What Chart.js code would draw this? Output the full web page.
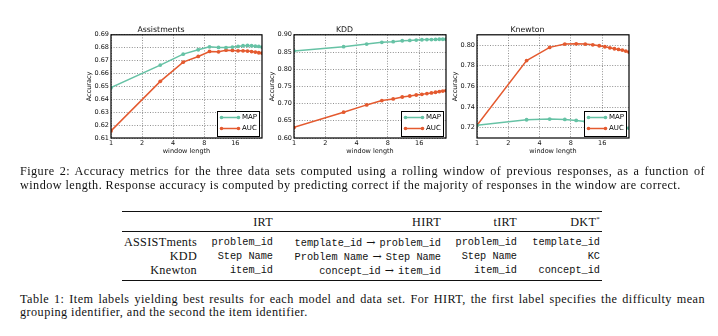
<!DOCTYPE html>
<html>
<head>
<meta charset="utf-8">
<script src="https://cdn.jsdelivr.net/npm/chart.js@4.4.0/dist/chart.umd.min.js"></script>
<style>
body { margin: 0; background: #fff; width: 718px; height: 336px; overflow: hidden; position: relative; }
.plot { position: absolute; top: 0; height: 165px; }
.cap { position: absolute; left: 20px; width: 685px; font-family: "Liberation Serif", serif; font-size: 12.2px;
       letter-spacing: 0.45px; line-height: 13.5px; color: #111; }
.cap .j { text-align: justify; text-align-last: justify; }
.rule { position: absolute; left: 122px; width: 480px; background: #111; }
.row { position: absolute; left: 0; width: 718px; height: 14px; line-height: 14px;
       font-family: "Liberation Serif", serif; font-size: 12.2px; letter-spacing: 0.3px; color: #111; }
.row span { position: absolute; top: 0; white-space: nowrap; }
.row span span { position: static; }
.tt { font-family: "Liberation Mono", monospace; font-size: 10.25px; letter-spacing: 0; }
.ar { font-family: "DejaVu Serif", serif; font-size: 11px; letter-spacing: 0; padding: 0 4px; }
.c0 { right: 521px; } .c1 { right: 445px; } .c2 { right: 277px; } .c3 { right: 201px; } .c4 { right: 118px; }
</style>
</head>
<body>
<canvas id="c1" class="plot" style="left:60px" width="210" height="165"></canvas>
<canvas id="c2" class="plot" style="left:243px" width="211" height="165"></canvas>
<canvas id="c3" class="plot" style="left:426px" width="211" height="165"></canvas>

<div class="cap" style="top:165px">
  <div class="j">Figure 2: Accuracy metrics for the three data sets computed using a rolling window of previous responses, as a function of</div>
  <div>window length. Response accuracy is computed by predicting correct if the majority of responses in the window are correct.</div>
</div>

<div class="rule" style="top:211px;height:1.2px"></div>
<div class="row" style="top:214.5px">
  <span class="c1">IRT</span><span class="c2">HIRT</span><span class="c3">tIRT</span><span class="c4">DKT<sup style="font-size:7px;line-height:0">*</sup></span>
</div>
<div class="rule" style="top:231px;height:0.7px"></div>
<div class="row" style="top:234.5px">
  <span class="c0">ASSISTments</span><span class="c1 tt">problem_id</span>
  <span class="c2"><span class="tt">template_id</span><span class="ar">&rarr;</span><span class="tt">problem_id</span></span>
  <span class="c3 tt">problem_id</span><span class="c4 tt">template_id</span>
</div>
<div class="row" style="top:248.5px">
  <span class="c0">KDD</span><span class="c1 tt">Step Name</span>
  <span class="c2"><span class="tt">Problem Name</span><span class="ar">&rarr;</span><span class="tt">Step Name</span></span>
  <span class="c3 tt">Step Name</span><span class="c4 tt">KC</span>
</div>
<div class="row" style="top:262.5px">
  <span class="c0">Knewton</span><span class="c1 tt">item_id</span>
  <span class="c2"><span class="tt">concept_id</span><span class="ar">&rarr;</span><span class="tt">item_id</span></span>
  <span class="c3 tt">item_id</span><span class="c4 tt">concept_id</span>
</div>
<div class="rule" style="top:279.5px;height:1.2px"></div>

<div class="cap" style="top:292.5px">
  <div class="j">Table 1: Item labels yielding best results for each model and data set. For HIRT, the first label specifies the difficulty mean</div>
  <div>grouping identifier, and the second the item identifier.</div>
</div>

<script>
const windowLengths = [1, 3, 5, 7, 9, 11, 13, 15, 17, 19, 21, 23, 25, 27, 29];
const xTicks = [1, 2, 4, 8, 16];

const assistMAP = [0.649, 0.6665, 0.675, 0.6784, 0.6807, 0.6802, 0.6801, 0.6805, 0.681, 0.6815, 0.6817, 0.6815, 0.6812, 0.681, 0.6805];
const assistAUC = [0.6155, 0.6539, 0.6688, 0.6732, 0.6771, 0.6768, 0.6781, 0.6779, 0.6776, 0.6776, 0.6774, 0.677, 0.6766, 0.6761, 0.6758];
const assistTicks = [0.61, 0.62, 0.63, 0.64, 0.65, 0.66, 0.67, 0.68, 0.69];

const kddMAP = [0.853, 0.8654, 0.873, 0.878, 0.880, 0.8827, 0.8837, 0.8846, 0.8856, 0.886, 0.886, 0.8865, 0.887, 0.887, 0.887];
const kddAUC = [0.6308, 0.675, 0.6962, 0.7087, 0.7135, 0.7192, 0.7221, 0.725, 0.727, 0.729, 0.731, 0.733, 0.735, 0.7365, 0.738];
const kddTicks = [0.60, 0.65, 0.70, 0.75, 0.80, 0.85, 0.90];

const knewtonMAP = [0.7223, 0.7277, 0.7283, 0.728, 0.727, 0.726, 0.725, 0.724, 0.723, 0.722, 0.7215, 0.721, 0.7205, 0.72, 0.7195];
const knewtonAUC = [0.7223, 0.785, 0.7978, 0.801, 0.8013, 0.801, 0.8003, 0.7994, 0.7984, 0.7974, 0.7965, 0.7958, 0.7952, 0.7942, 0.7933];
const knewtonTicks = [0.72, 0.74, 0.76, 0.78, 0.80];

const mapColor = '#66c2a5';
const aucColor = '#e45a2f';
const sans = '"DejaVu Sans", sans-serif';

// axes frame + matplotlib style legend in the lower right corner
const frameLegend = {
  id: 'frameLegend',
  afterDatasetsDraw(chart) {
    const { ctx, chartArea: a } = chart;
    ctx.save();
    ctx.strokeStyle = '#000';
    ctx.lineWidth = 1.2;
    ctx.strokeRect(a.left, a.top, a.right - a.left, a.bottom - a.top);

    const w = 42, h = 25;
    const x = Math.round(a.right - 3 - w) + 0.5, y = Math.round(a.bottom - 2 - h) + 0.5;
    ctx.fillStyle = '#fff';
    ctx.fillRect(x, y, w, h);
    ctx.lineWidth = 1;
    ctx.strokeRect(x, y, w, h);
    ctx.font = '7px ' + sans;
    ctx.textBaseline = 'middle';
    chart.data.datasets.forEach((ds, i) => {
      const cy = y + 6 + i * 11;
      ctx.strokeStyle = ds.borderColor;
      ctx.fillStyle = ds.borderColor;
      ctx.lineWidth = 1.5;
      ctx.beginPath();
      ctx.moveTo(x + 4, cy);
      ctx.lineTo(x + 21, cy);
      ctx.stroke();
      [x + 4, x + 21].forEach(px => {
        ctx.beginPath();
        ctx.arc(px, cy, 1.8, 0, Math.PI * 2);
        ctx.fill();
      });
      ctx.fillStyle = '#000';
      ctx.fillText(ds.label, x + 24.5, cy);
    });
    ctx.restore();
  }
};

function makeChart(id, title, map, auc, yTicks, yMin, yMax) {
  const ctx = document.getElementById(id).getContext('2d');
  return new Chart(ctx, {
    type: 'line',
    data: {
      datasets: [
        { label: 'MAP', data: windowLengths.map((w, i) => ({ x: w, y: map[i] })),
          borderColor: mapColor, backgroundColor: mapColor, borderWidth: 1.5, pointRadius: 1.9, pointBorderWidth: 0 },
        { label: 'AUC', data: windowLengths.map((w, i) => ({ x: w, y: auc[i] })),
          borderColor: aucColor, backgroundColor: aucColor, borderWidth: 1.5, pointRadius: 1.9, pointBorderWidth: 0 }
      ]
    },
    options: {
      responsive: false,
      animation: false,
      layout: { padding: { top: 26, right: 8, bottom: 9, left: 0 } },
      plugins: {
        legend: { display: false },
        tooltip: { enabled: false },
        title: { display: true, text: title, color: '#111', padding: { top: 0, bottom: 1 },
                 font: { family: sans, size: 7.8, weight: 'normal', lineHeight: 1 } }
      },
      scales: {
        x: {
          type: 'logarithmic', min: 1, max: 29,
          afterBuildTicks: s => { s.ticks = xTicks.map(v => ({ value: v })); },
          afterFit: s => { s.height = 18; },
          ticks: { color: '#111', padding: 2, maxRotation: 0, autoSkip: false,
                   font: { family: sans, size: 6.5, lineHeight: 1 }, callback: v => String(v) },
          grid: { color: 'rgba(0,0,0,0.55)', lineWidth: 0.8, drawTicks: false },
          border: { display: false, dash: [1, 1.6] },
          title: { display: true, text: 'window length', color: '#111', padding: { top: 0, bottom: 1 },
                   font: { family: sans, size: 6.5, lineHeight: 1 } }
        },
        y: {
          min: yMin, max: yMax,
          afterBuildTicks: s => { s.ticks = yTicks.map(v => ({ value: v })); },
          afterFit: s => { s.width = 51; },
          ticks: { color: '#111', padding: 2, autoSkip: false,
                   font: { family: sans, size: 6.5, lineHeight: 1 }, callback: v => v.toFixed(2) },
          grid: { color: 'rgba(0,0,0,0.55)', lineWidth: 0.8, drawTicks: false },
          border: { display: false, dash: [1, 1.6] },
          title: { display: true, text: 'Accuracy', color: '#111', padding: { top: 25.75, bottom: 0 },
                   font: { family: sans, size: 6.5, lineHeight: 1 } }
        }
      }
    },
    plugins: [frameLegend]
  });
}

makeChart('c1', 'Assistments', assistMAP, assistAUC, assistTicks, 0.61, 0.69);
makeChart('c2', 'KDD', kddMAP, kddAUC, kddTicks, 0.60, 0.90);
makeChart('c3', 'Knewton', knewtonMAP, knewtonAUC, knewtonTicks, 0.71, 0.81);
</script>
</body>
</html>
